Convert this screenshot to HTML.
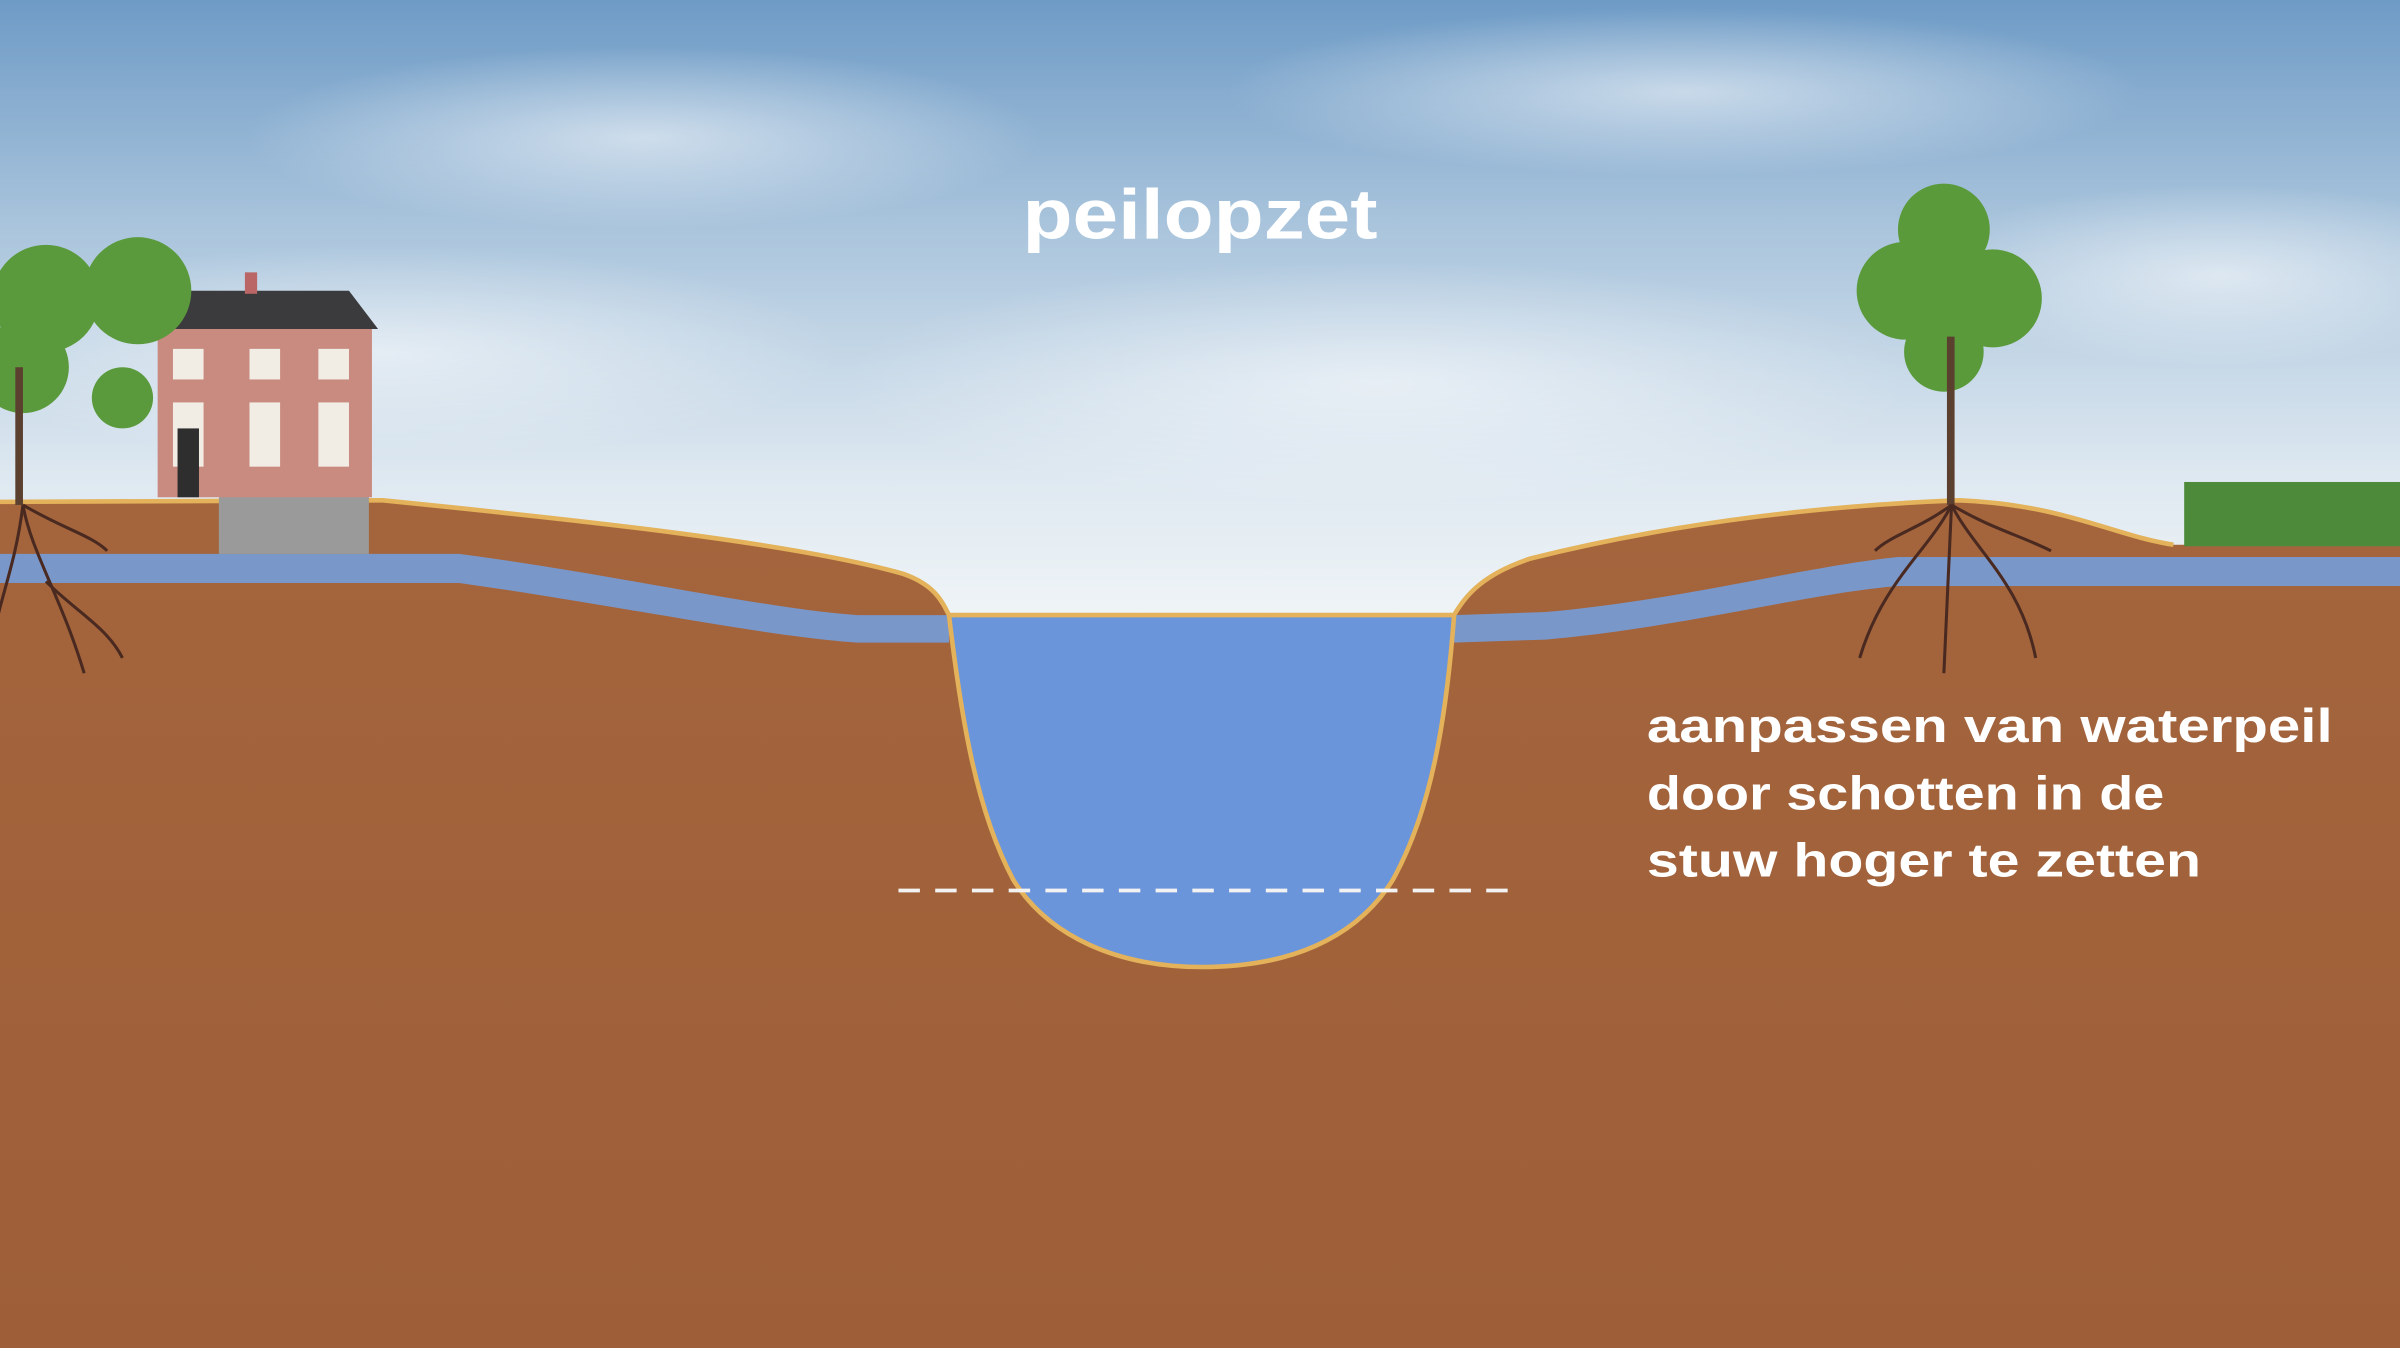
<!DOCTYPE html>
<html><head><meta charset="utf-8"><style>
html,body{margin:0;padding:0;width:2400px;height:1348px;overflow:hidden}
svg{display:block}
</style></head><body>
<svg width="2400" height="1348" viewBox="0 0 1568 881" preserveAspectRatio="none" xmlns="http://www.w3.org/2000/svg">
<defs>
<linearGradient id="sky" x1="0" y1="0" x2="0" y2="1">
<stop offset="0" stop-color="#6e9bc6"/>
<stop offset="0.35" stop-color="#a9c4dc"/>
<stop offset="0.75" stop-color="#dfe9f1"/>
<stop offset="1" stop-color="#f2f6f8"/>
</linearGradient>
<radialGradient id="cl" cx="0.5" cy="0.5" r="0.5">
<stop offset="0" stop-color="#ffffff" stop-opacity="0.55"/>
<stop offset="1" stop-color="#ffffff" stop-opacity="0"/>
</radialGradient>
<linearGradient id="soil" x1="0" y1="0" x2="0" y2="1">
<stop offset="0" stop-color="#a4653d"/>
<stop offset="1" stop-color="#9e5f38"/>
</linearGradient>
</defs>
<rect width="1568" height="420" fill="url(#sky)"/>
<ellipse cx="420" cy="90" rx="260" ry="60" fill="url(#cl)"/>
<ellipse cx="1100" cy="60" rx="300" ry="55" fill="url(#cl)"/>
<ellipse cx="250" cy="230" rx="300" ry="70" fill="url(#cl)"/>
<ellipse cx="900" cy="250" rx="350" ry="80" fill="url(#cl)"/>
<ellipse cx="1450" cy="180" rx="200" ry="60" fill="url(#cl)"/>
<path d="M0,328 L250,327 C380,340 520,355 590,375 C610,382 615,392 620,402 L950,402 C958,388 970,375 1000,365 C1100,340 1200,330 1280,327 C1350,330 1380,350 1420,356 L1568,356 L1568,881 L0,881 Z" fill="url(#soil)"/>
<path d="M0,328 L250,327 C380,340 520,355 590,375 C610,382 615,392 620,402" fill="none" stroke="#e3b25a" stroke-width="3"/>
<path d="M950,402 C958,388 970,375 1000,365 C1100,340 1200,330 1280,327 C1350,330 1380,350 1420,356" fill="none" stroke="#e3b25a" stroke-width="3"/>
<path d="M0,362 L300,362 C400,375 500,398 560,402 L620,402 L620,420 L560,420 C500,416 400,395 300,381 L0,381 Z" fill="#7a97c9"/>
<path d="M950,402 L1010,400 C1100,392 1180,370 1240,364 L1568,364 L1568,383 L1240,383 C1180,388 1100,410 1010,418 L950,420 Z" fill="#7a97c9"/>
<path d="M620,402 L950,402 C945,470 935,530 910,575 C885,615 840,632 785,632 C730,632 685,612 662,575 C638,530 628,470 620,402 Z" fill="#6b95da" stroke="#e3b25a" stroke-width="3"/>
<line x1="587" y1="582" x2="988" y2="582" stroke="#f2f2f2" stroke-width="2.5" stroke-dasharray="14,10"/>
<rect x="143" y="322" width="98" height="40" fill="#9a9a9a"/>
<rect x="103" y="213" width="140" height="112" fill="#c98a80"/>
<polygon points="100,215 122,190 228,190 247,215" fill="#3b3b3d"/>
<rect x="160" y="178" width="8" height="14" fill="#b66"/>
<g fill="#f1ece4">
<rect x="113" y="228" width="20" height="20"/><rect x="163" y="228" width="20" height="20"/><rect x="208" y="228" width="20" height="20"/>
<rect x="113" y="263" width="20" height="42"/><rect x="163" y="263" width="20" height="42"/><rect x="208" y="263" width="20" height="42"/>
</g>
<rect x="116" y="280" width="14" height="45" fill="#2e2e2e"/>
<g fill="#5b9a3c">
<circle cx="30" cy="195" r="35"/><circle cx="90" cy="190" r="35"/><circle cx="15" cy="240" r="30"/><circle cx="80" cy="260" r="20"/>
</g>
<rect x="10" y="240" width="5" height="90" fill="#5b4030"/>
<g fill="#5a9a3a">
<circle cx="1270" cy="150" r="30"/><circle cx="1245" cy="190" r="32"/><circle cx="1302" cy="195" r="32"/><circle cx="1270" cy="230" r="26"/>
</g>
<rect x="1272" y="220" width="5" height="110" fill="#5b4030"/>
<g stroke="#4a2a20" stroke-width="2" fill="none">
<path d="M1275,330 C1260,360 1230,380 1215,430"/><path d="M1275,330 C1290,360 1320,380 1330,430"/><path d="M1275,330 L1270,440"/><path d="M1275,330 C1255,345 1235,350 1225,360"/><path d="M1275,330 C1300,345 1320,350 1340,360"/>
<path d="M15,330 C20,360 40,390 55,440"/><path d="M15,330 C10,370 0,390 -5,420"/><path d="M15,330 C40,345 60,350 70,360"/><path d="M30,380 C50,400 70,410 80,430"/>
</g>
<rect x="1427" y="315" width="141" height="42" fill="#4d8a3a"/>
<text x="668" y="156" textLength="232" lengthAdjust="spacingAndGlyphs" font-family="Liberation Sans, sans-serif" font-weight="bold" font-size="46" fill="#ffffff">peilopzet</text>
<g font-family="Liberation Sans, sans-serif" font-weight="bold" font-size="31" fill="#ffffff">
<text x="1076" y="485" textLength="448" lengthAdjust="spacingAndGlyphs">aanpassen van waterpeil</text>
<text x="1076" y="529" textLength="338" lengthAdjust="spacingAndGlyphs">door schotten in de</text>
<text x="1076" y="573" textLength="362" lengthAdjust="spacingAndGlyphs">stuw hoger te zetten</text>
</g>
</svg>
</body></html>
